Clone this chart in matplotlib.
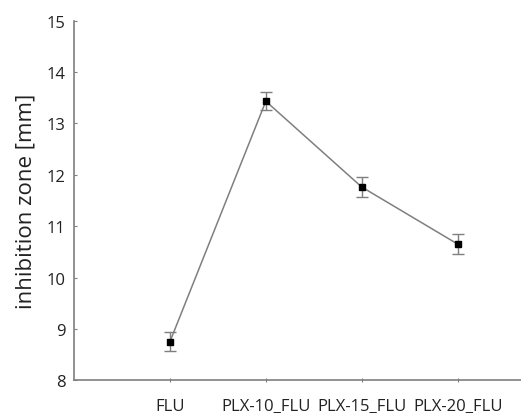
import matplotlib
matplotlib.use("Agg")
import matplotlib.pyplot as plt

categories = ["FLU", "PLX-10_FLU", "PLX-15_FLU", "PLX-20_FLU"]
values = [8.75, 13.43, 11.76, 10.65]
errors = [0.18, 0.18, 0.19, 0.20]
y_ticks = [8, 9, 10, 11, 12, 13, 14, 15]

plt.rcParams['font.family'] = ['Open Sans', 'DejaVu Sans']

fig = plt.figure(figsize=(5.21, 4.14), dpi=100)
ax = fig.add_axes([0.142, 0.079, 0.858, 0.869])

x = list(range(1, len(categories) + 1))
grey = "#7f7f7f"
ax.plot(x, values, color=grey, linewidth=1.1, zorder=2)
ax.errorbar(x, values, yerr=errors, fmt='none', ecolor=grey, elinewidth=1.0,
            capsize=4, capthick=1.0, zorder=3)
ax.plot(x, values, linestyle='none', marker='s', markersize=4.5,
        color='black', zorder=4)

ax.set_xlim(0, 4.66)
ax.set_ylim(8, 15)
ax.set_yticks(y_ticks)
ax.set_xticks(x)
ax.set_xticklabels(categories)

for s in ["top", "right"]:
    ax.spines[s].set_visible(False)
for s in ["left", "bottom"]:
    ax.spines[s].set_color(grey)
    ax.spines[s].set_linewidth(1.2)

ax.tick_params(axis='y', direction='in', length=2, color=grey, labelsize=12,
               pad=6, labelcolor='#222222')
ax.tick_params(axis='x', direction='inout', length=3, color=grey, labelsize=12,
               pad=11, labelcolor='#222222')
ax.set_ylabel("inhibition zone [mm]", fontsize=16, labelpad=7, color='#222222')

fig.savefig("out.png", dpi=100)
